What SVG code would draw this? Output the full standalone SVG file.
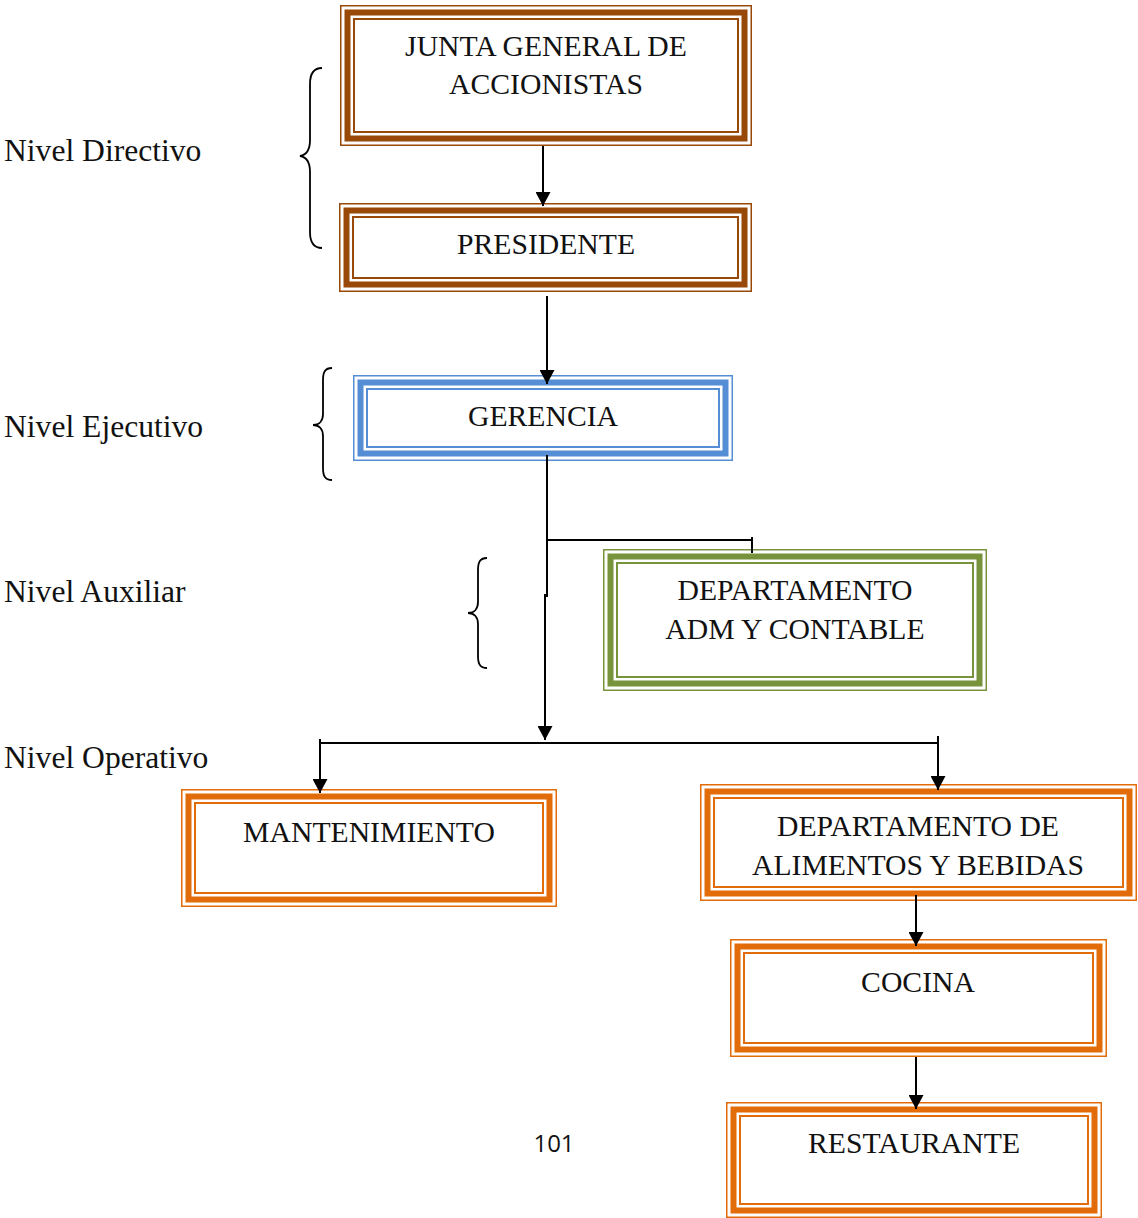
<svg xmlns="http://www.w3.org/2000/svg" width="1138" height="1218" viewBox="0 0 1138 1218">
  <style>
    .bg { fill: #ffffff; }
    .o { fill: #ffffff; stroke-width: 1.5; }
    .t { fill: none; stroke-width: 6; }
    .i { fill: none; stroke-width: 2; }
    .brown { stroke: #984807; }
    .blue { stroke: #558ED5; }
    .green { stroke: #77933C; }
    .orange { stroke: #E36C0A; }
    .lbl { font-family: "Liberation Serif", "Times New Roman", serif; font-size: 29.7px; fill: #111; text-anchor: middle; }
    .lvl { font-family: "Liberation Serif", "Times New Roman", serif; font-size: 31.6px; fill: #111; }
    .pg { font-family: "Open Sans", "Liberation Sans", sans-serif; font-size: 24px; fill: #111; text-anchor: middle; }
    .ln { fill: none; stroke: #000; stroke-width: 2; }
    .arr { fill: none; stroke: #000; stroke-width: 2; marker-end: url(#ah); }
    .br { fill: none; stroke: #000; stroke-width: 1.8; }
  </style>
  <defs>
    <marker id="ah" markerUnits="userSpaceOnUse" markerWidth="15" markerHeight="15" refX="14" refY="7.5" orient="auto">
      <path d="M0,0 L14,7.5 L0,15 z" fill="#000"/>
    </marker>
  </defs>

  <rect class="bg" x="0" y="0" width="1138" height="1218"/>

  <!-- level labels -->
  <g id="levels">
    <text class="lvl" x="4" y="161">Nivel Directivo</text>
    <text class="lvl" x="4" y="437">Nivel Ejecutivo</text>
    <text class="lvl" x="4" y="602">Nivel Auxiliar</text>
    <text class="lvl" x="4" y="768">Nivel Operativo</text>
  </g>

  <!-- curly braces grouping the levels -->
  <g id="braces">
    <path class="br" d="M322,68 C313,68 310,74 310,84 V140 C310,150 306,155 300,156 C306,157 310,162 310,172 V232 C310,242 313,248 322,248"/>
    <path class="br" d="M332,368 C325,368 323,372 323,380 V414 C323,421 319,425 313,425 C319,425 323,429 323,436 V468 C323,476 325,480 332,480"/>
    <path class="br" d="M487,558 C480,558 478,562 478,570 V602 C478,609 474,613 468,613 C474,613 478,617 478,624 V656 C478,664 480,668 487,668"/>
  </g>

  <!-- nodes -->
  <g id="junta">
    <rect class="o brown" x="340.75" y="5.75" width="410.5" height="139.5"/>
    <rect class="t brown" x="347.5" y="12.5" width="397" height="126"/>
    <rect class="i brown" x="354" y="19" width="384" height="113"/>
    <text class="lbl" x="546" y="56">JUNTA GENERAL DE</text>
    <text class="lbl" x="546" y="94">ACCIONISTAS</text>
  </g>

  <g id="presidente">
    <rect class="o brown" x="339.75" y="203.75" width="411.5" height="87.5"/>
    <rect class="t brown" x="346.5" y="210.5" width="398" height="74"/>
    <rect class="i brown" x="353" y="217" width="385" height="61"/>
    <text class="lbl" x="546" y="254">PRESIDENTE</text>
  </g>

  <g id="gerencia">
    <rect class="o blue" x="353.75" y="375.75" width="378.5" height="84.5"/>
    <rect class="t blue" x="360.5" y="382.5" width="365" height="71"/>
    <rect class="i blue" x="367" y="389" width="352" height="58"/>
    <text class="lbl" x="543" y="426">GERENCIA</text>
  </g>

  <g id="dept-adm">
    <rect class="o green" x="603.75" y="549.75" width="382.5" height="140.5"/>
    <rect class="t green" x="610.5" y="556.5" width="369" height="127"/>
    <rect class="i green" x="617" y="563" width="356" height="114"/>
    <text class="lbl" x="795" y="600">DEPARTAMENTO</text>
    <text class="lbl" x="795" y="639">ADM Y CONTABLE</text>
  </g>

  <g id="mantenimiento">
    <rect class="o orange" x="181.75" y="789.75" width="374.5" height="116.5"/>
    <rect class="t orange" x="188.5" y="796.5" width="361" height="103"/>
    <rect class="i orange" x="195" y="803" width="348" height="90"/>
    <text class="lbl" x="369" y="842">MANTENIMIENTO</text>
  </g>

  <g id="dept-ayb">
    <rect class="o orange" x="700.75" y="784.75" width="435.5" height="115.5"/>
    <rect class="t orange" x="707.5" y="791.5" width="422" height="102"/>
    <rect class="i orange" x="714" y="798" width="409" height="89"/>
    <text class="lbl" x="918" y="836">DEPARTAMENTO DE</text>
    <text class="lbl" x="918" y="875">ALIMENTOS Y BEBIDAS</text>
  </g>

  <g id="cocina">
    <rect class="o orange" x="730.75" y="939.75" width="375.5" height="116.5"/>
    <rect class="t orange" x="737.5" y="946.5" width="362" height="103"/>
    <rect class="i orange" x="744" y="953" width="349" height="90"/>
    <text class="lbl" x="918" y="992">COCINA</text>
  </g>

  <g id="restaurante">
    <rect class="o orange" x="726.75" y="1102.75" width="374.5" height="114.5"/>
    <rect class="t orange" x="733.5" y="1109.5" width="361" height="101"/>
    <rect class="i orange" x="740" y="1116" width="348" height="88"/>
    <text class="lbl" x="914" y="1153">RESTAURANTE</text>
  </g>

  <!-- connectors, drawn over the box borders so the arrowheads stay visible -->
  <g id="connectors">
    <path class="arr" d="M543,146 V206"/>
    <path class="arr" d="M547,296 V384"/>
    <path class="ln" d="M547,455 V597"/>
    <path class="arr" d="M545,594 V740"/>
    <path class="ln" d="M546,540 H753"/>
    <path class="ln" d="M752,537 V553"/>
    <path class="ln" d="M319,743 H939"/>
    <path class="arr" d="M320,739 V793"/>
    <path class="arr" d="M938,736 V790"/>
    <path class="arr" d="M916,895 V946"/>
    <path class="arr" d="M916,1057 V1109"/>
  </g>

  <!-- page number -->
  <text class="pg" x="554" y="1152">101</text>
</svg>
